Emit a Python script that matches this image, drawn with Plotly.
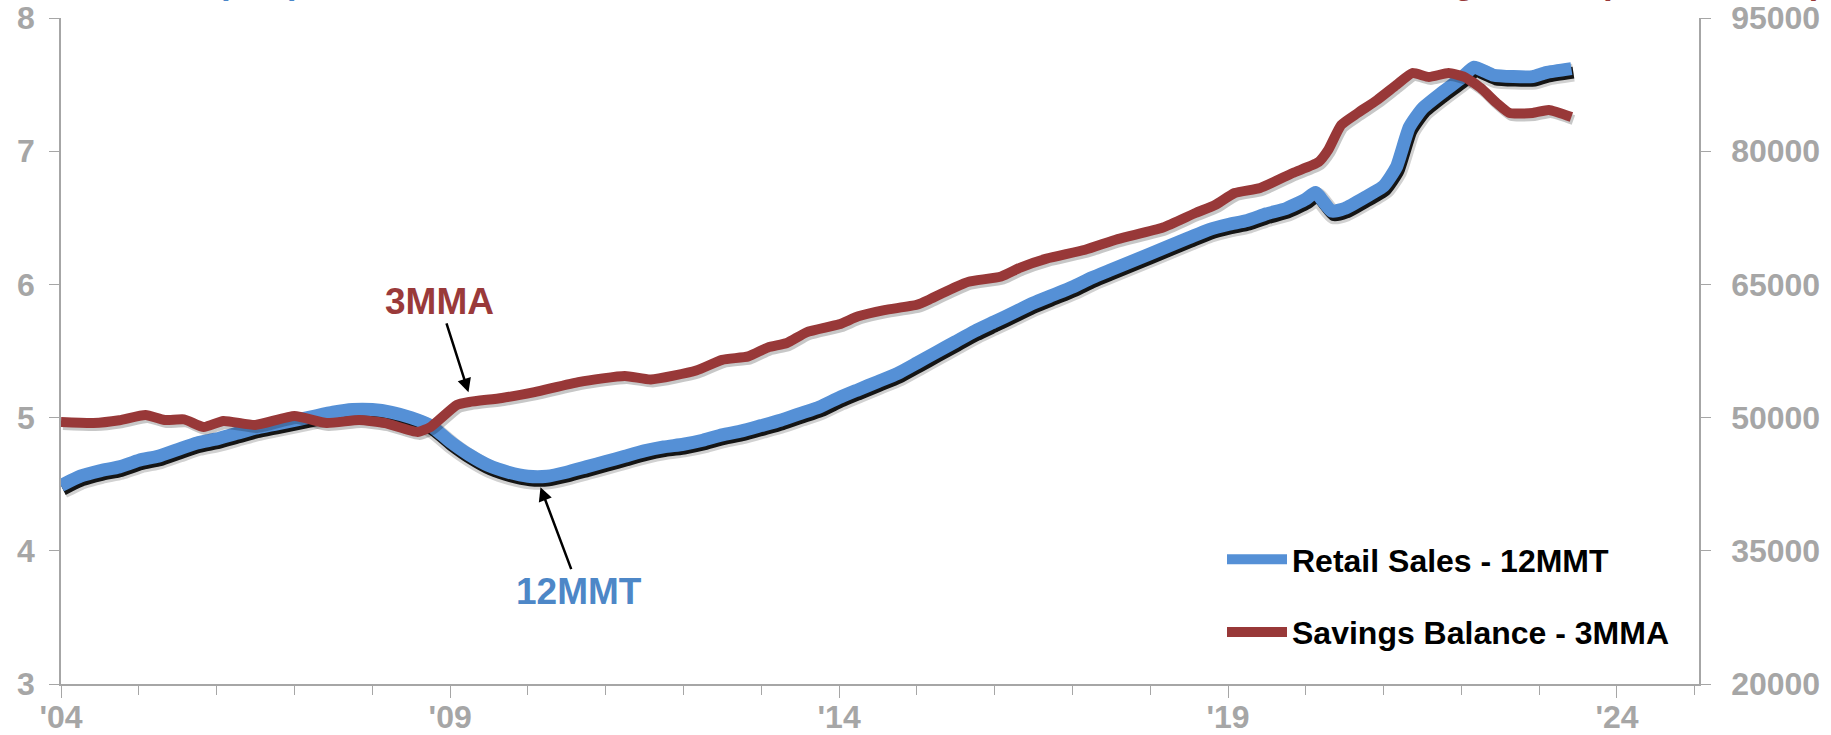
import pandas as pd
import plotly.graph_objects as go

# Retail sales, 12-month moving total (left axis)
retail_dates = [
    "2004-01-01", "2004-04-01", "2004-07-01", "2004-10-01",
    "2005-01-01", "2005-04-01", "2005-07-01", "2005-10-01",
    "2006-01-01", "2006-04-01", "2006-07-01", "2006-10-01",
    "2007-01-01", "2007-04-01", "2007-07-01", "2007-10-01",
    "2008-01-01", "2008-04-01", "2008-07-01", "2008-10-01",
    "2009-01-01", "2009-04-01", "2009-07-01", "2009-10-01",
    "2010-01-01", "2010-04-01", "2010-07-01", "2010-10-01",
    "2011-01-01", "2011-04-01", "2011-07-01", "2011-10-01",
    "2012-01-01", "2012-04-01", "2012-07-01", "2012-10-01",
    "2013-01-01", "2013-04-01", "2013-07-01", "2013-10-01",
    "2014-01-01", "2014-04-01", "2014-07-01", "2014-10-01",
    "2015-01-01", "2015-04-01", "2015-07-01", "2015-10-01",
    "2016-01-01", "2016-04-01", "2016-07-01", "2016-10-01",
    "2017-01-01", "2017-04-01", "2017-07-01", "2017-10-01",
    "2018-01-01", "2018-04-01", "2018-07-01", "2018-10-01",
    "2019-01-01", "2019-04-01", "2019-07-01", "2019-10-01",
    "2020-01-01", "2020-02-15", "2020-05-01", "2020-07-01", "2020-10-01",
    "2021-01-01", "2021-03-01", "2021-05-01", "2021-07-01", "2021-10-01",
    "2022-01-01", "2022-03-01", "2022-06-01", "2022-09-01", "2022-12-01",
    "2023-02-01", "2023-06-01",
]
retail_values = [
    4.49, 4.56, 4.60, 4.63,
    4.68, 4.71, 4.76, 4.81,
    4.84, 4.88, 4.92, 4.95,
    4.98, 5.01, 5.04, 5.06,
    5.06, 5.04, 5.00, 4.94,
    4.82, 4.72, 4.64, 4.59,
    4.56, 4.56, 4.59, 4.63,
    4.67, 4.71, 4.75, 4.78,
    4.80, 4.83, 4.87, 4.90,
    4.94, 4.98, 5.03, 5.08,
    5.15, 5.21, 5.27, 5.33,
    5.41, 5.49, 5.57, 5.65,
    5.72, 5.79, 5.86, 5.92,
    5.98, 6.05, 6.11, 6.17,
    6.23, 6.29, 6.35, 6.41,
    6.45, 6.48, 6.53, 6.57,
    6.64, 6.69, 6.55, 6.57, 6.65,
    6.74, 6.88, 7.18, 7.32, 7.44,
    7.55, 7.63, 7.57, 7.56, 7.56,
    7.59, 7.62,
]

# Savings balance, 3-month moving average (right axis)
savings_dates = [
    "2004-01-01", "2004-06-01", "2004-10-01", "2005-02-01", "2005-05-01",
    "2005-08-01", "2005-11-01", "2006-02-01", "2006-07-01", "2007-01-01",
    "2007-06-01", "2007-11-01", "2008-03-01", "2008-08-01", "2008-10-01",
    "2009-02-01", "2009-04-01", "2009-09-01", "2010-02-01", "2010-09-01",
    "2011-04-01", "2011-08-01", "2012-03-01", "2012-07-01", "2012-11-01",
    "2013-02-01", "2013-05-01", "2013-08-01", "2014-01-01", "2014-04-01",
    "2014-08-01", "2015-01-01", "2015-03-01", "2015-07-01", "2015-09-01",
    "2016-02-01", "2016-05-01", "2016-09-01", "2017-03-01", "2017-08-01",
    "2018-03-01", "2018-08-01", "2018-11-01", "2019-02-01", "2019-06-01",
    "2019-11-01", "2020-03-01", "2020-04-15", "2020-06-15", "2020-09-01",
    "2020-12-01", "2021-03-01", "2021-05-15", "2021-08-01", "2021-11-01",
    "2022-01-15", "2022-04-01", "2022-06-15", "2022-08-15", "2022-12-01",
    "2023-02-15", "2023-06-01",
]
savings_values = [
    49500, 49390, 49700, 50290, 49730,
    49800, 48940, 49620, 49170, 50180,
    49390, 49730, 49390, 48380, 48940,
    51420, 51760, 52210, 52880, 54030,
    54690, 54290, 55300, 56500, 56900,
    57900, 58400, 59600, 60500, 61400,
    62100, 62700, 63300, 64700, 65300,
    65900, 66900, 67900, 68900, 70100,
    71400, 73040, 73940, 75290, 75860,
    77550, 78780, 80130, 82950, 84300,
    85770, 87450, 88800, 88360, 88800,
    88360, 87120, 85430, 84300, 84300,
    84640, 83850,
]

x_tick_vals = ["2004-01-01", "2009-01-01", "2014-01-01", "2019-01-01", "2024-01-01"]
x_tick_text = ["'04", "'09", "'14", "'19", "'24"]
left_ticks = [3, 4, 5, 6, 7, 8]
right_ticks = [20000, 35000, 50000, 65000, 80000, 95000]

BLUE = "#5590d6"
RED = "#983838"
GREY = "#a6a6a6"
FONT = "Liberation Sans, Arial, Helvetica, sans-serif"

W, H = 1831, 735
M_L, M_R, M_T, M_B = 61, 132, 18, 51
plot_w = W - M_L - M_R
plot_h = H - M_T - M_B

x_start = pd.Timestamp("2004-01-01")
x_end = pd.Timestamp("2025-01-20")
left_rng = (3, 8)
right_rng = (20000, 95000)


def paper_x(px):
    # page pixel column -> paper fraction of the plot area
    return (px - M_L) / plot_w


# drop-shadow offsets in pixels, converted to axis units
def shift_x(dx_px):
    d = (x_end - x_start) * (dx_px / plot_w)
    return [x_start - d, x_end - d]


def shift_y(rng, dy_px):
    d = (rng[1] - rng[0]) * dy_px / plot_h
    return [rng[0] + d, rng[1] + d]


fig = go.Figure()
spline = dict(shape="spline", smoothing=0.5)

# blue shadow (bottom layer)
fig.add_trace(go.Scatter(x=retail_dates, y=retail_values, xaxis="x", yaxis="y", mode="lines",
                         line=dict(color="rgba(0,0,0,0.18)", width=18, **spline),
                         showlegend=False, hoverinfo="skip"))
fig.add_trace(go.Scatter(x=retail_dates, y=retail_values, xaxis="x", yaxis="y", mode="lines",
                         line=dict(color="rgba(0,0,0,0.9)", width=12, **spline),
                         showlegend=False, hoverinfo="skip"))
# blue line
fig.add_trace(go.Scatter(x=retail_dates, y=retail_values, xaxis="x2", yaxis="y2", mode="lines",
                         name="Retail Sales - 12MMT", legendgroup="a",
                         line=dict(color=BLUE, width=13, **spline)))
# red shadow
fig.add_trace(go.Scatter(x=savings_dates, y=savings_values, xaxis="x3", yaxis="y3", mode="lines",
                         line=dict(color="rgba(0,0,0,0.22)", width=10, **spline),
                         showlegend=False, hoverinfo="skip"))
# red line
fig.add_trace(go.Scatter(x=savings_dates, y=savings_values, xaxis="x4", yaxis="y4", mode="lines",
                         name="Savings Balance - 3MMA", legendgroup="b",
                         line=dict(color=RED, width=10, **spline)))

hidden = dict(visible=False, showgrid=False, zeroline=False, automargin=False)
tickfont = dict(family=FONT, size=32, color=GREY, weight="bold")
shown = dict(showgrid=False, zeroline=False, showline=True, linecolor=GREY, linewidth=1.5,
             ticks="outside", tickwidth=1.2, tickcolor=GREY, tickfont=tickfont, automargin=False)

fig.update_layout(
    template="none",
    width=W, height=H,
    margin=dict(l=M_L, r=M_R, t=M_T, b=M_B, autoexpand=False),
    paper_bgcolor="white", plot_bgcolor="white",
    xaxis=dict(type="date", range=shift_x(2), **hidden),
    yaxis=dict(range=shift_y(left_rng, 4), **hidden),
    xaxis2=dict(type="date", overlaying="x", anchor="y2", range=[x_start, x_end],
                tickmode="array", tickvals=x_tick_vals, ticktext=x_tick_text, ticklen=12,
                ticklabelstandoff=-8,
                minor=dict(dtick="M12", tick0="2004-01-01", ticks="outside", ticklen=9,
                           tickwidth=1.2, tickcolor=GREY, showgrid=False),
                **shown),
    yaxis2=dict(overlaying="y", anchor="x2", side="left", range=list(left_rng),
                tickmode="array", tickvals=left_ticks, ticklen=10, ticklabelstandoff=8, **shown),
    xaxis3=dict(type="date", overlaying="x", range=shift_x(2), **hidden),
    yaxis3=dict(overlaying="y", range=shift_y(right_rng, 3), **hidden),
    xaxis4=dict(type="date", overlaying="x", range=[x_start, x_end], **hidden),
    yaxis4=dict(overlaying="y", anchor="x4", side="right", range=list(right_rng),
                tickmode="array", tickvals=right_ticks, tickformat="d", ticklen=10,
                ticklabelstandoff=14, **shown),
    legend=dict(x=paper_x(1222), y=(684 - 532) / plot_h, xanchor="left", yanchor="top",
                font=dict(family=FONT, size=32, color="black", weight="bold"),
                bgcolor="rgba(0,0,0,0)", tracegroupgap=28, itemwidth=60),
    showlegend=True,
)

# series callouts
fig.add_annotation(x="2009-03-28", y=5.19, xref="x2", yref="y2", text="3MMA",
                   showarrow=True, ax=-29, ay=-91, arrowhead=2, arrowsize=1.1, arrowwidth=2.5,
                   arrowcolor="black", font=dict(family=FONT, size=37, color="#9a3a3a", weight="bold"))
fig.add_annotation(x="2010-03-01", y=4.478, xref="x2", yref="y2", text="12MMT",
                   showarrow=True, ax=39, ay=104, arrowhead=2, arrowsize=1.1, arrowwidth=2.5,
                   arrowcolor="black", font=dict(family=FONT, size=37, color="#4d87c7", weight="bold"))

# axis titles running along the top edge
fig.add_annotation(x=paper_x(302), y=1, xref="paper", yref="paper", xanchor="right", yanchor="bottom",
                   yshift=14.5, text="Retail Sales (£ tn)", showarrow=False,
                   font=dict(family=FONT, size=34, color="#4a86c8", weight="bold"))
fig.add_annotation(x=paper_x(1824), y=1, xref="paper", yref="paper", xanchor="right",
                   yanchor="bottom", yshift=14.5, text="Savings Level (£ thousands)", showarrow=False,
                   font=dict(family=FONT, size=34, color=RED, weight="bold"))

fig.write_html("out.html")
